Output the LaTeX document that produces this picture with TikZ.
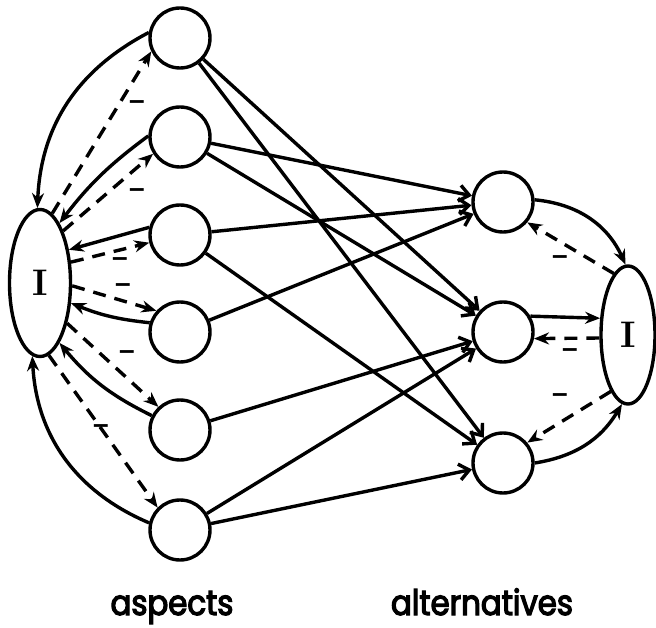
\documentclass[tikz,border=0pt]{standalone}
\usepackage{fontspec}
\newfontfamily\labelfont[FakeStretch=0.88,FakeBold=3.5]{Poppins}
\newfontfamily\signfont{Liberation Sans}
\usetikzlibrary{arrows.meta,shapes.geometric}

\begin{document}
\begin{tikzpicture}[x=1pt,y=-1pt,line width=3.4pt,
  unit/.style={circle,draw,minimum size=60pt,inner sep=0pt},
  hub/.style={ellipse,draw,inner sep=0pt,font=\bfseries\fontsize{37}{37}\selectfont},
  link/.style={-{Straight Barb[length=10pt,width=16pt]}},
  feed/.style={-{Stealth[length=15pt,width=12pt]}},
  back/.style={dash pattern=on 13pt off 9pt,-{Stealth[length=15pt,width=12pt]}},
  sign/.style={font=\signfont\bfseries\fontsize{28}{28}\selectfont,inner sep=0pt},
  caption/.style={font=\labelfont\fontsize{35}{35}\selectfont,inner sep=0pt,anchor=base}]
\useasboundingbox (0,0) rectangle (656,628);

% integrator units
\node[hub,minimum width=61pt,minimum height=147pt] (L) at (40,283) {I};
\node[hub,minimum width=54pt,minimum height=138pt] (R) at (628,335) {I};

% aspect units
\node[unit] (a1) at (180,38) {};
\node[unit] (a2) at (180,137) {};
\node[unit] (a3) at (180,235) {};
\node[unit] (a4) at (180,332) {};
\node[unit] (a5) at (180,430) {};
\node[unit] (a6) at (180,530) {};

% alternative units
\node[unit] (b1) at (503,202) {};
\node[unit] (b2) at (503,332) {};
\node[unit] (b3) at (503,463) {};

% aspects feeding the left integrator
\draw[feed] (a1.170) to[bend right=30] (L.92);
\draw[feed] (a2.178) to[bend right=8] (L.72);
\draw[feed] (a3.166) -- (L.49);
\draw[feed] (a4.163) to[bend left=8] (L.327);
\draw[feed] (a5.153) to[bend left=12] (L.288);
\draw[feed] (a6.167) to[bend left=32] (L.264);

% inhibitory feedback to the aspects
\draw[back] (L.80) -- (a1.205);
\draw[back] (L.66) -- (a2.212);
\draw[back] (L.34) -- (a3.194);
\draw[back] (L.355) -- (a4.138);
\draw[back] (L.304) -- (a5.133);
\draw[back] (L.277) -- (a6.135);

\node[sign] (s1) at (137,105) {–};
\node[sign] (s2) at (137,193) {–};
\node[sign] (s3) at (120,262) {–};
\node[sign] (s4) at (123,288) {–};
\node[sign] (s5) at (127,355) {–};
\node[sign] (s6) at (101,429) {–};

% aspects to alternatives
\draw[link] (a1) -- (b2);
\draw[link] (a1) -- (b3);
\draw[link] (a2) -- (b1);
\draw[link] (a2) -- (b2);
\draw[link] (a3) -- (b1);
\draw[link] (a3) -- (b3);
\draw[link] (a4) -- (b1);
\draw[link] (a5) -- (b2);
\draw[link] (a6) -- (b2);
\draw[link] (a6) -- (b3);

% alternatives feeding the right integrator
\draw[feed] (b1.4) to[bend left=30] (R.92);
\draw[feed] (b2.30) -- (R.149);
\draw[feed] (b3.0) to[bend right=25] (R.265);

% inhibitory feedback to the alternatives
\draw[back] (R.103) -- (b1.320);
\draw[back] (R.186) -- (b2.348);
\draw[back] (R.253) -- (b3.40);

\node[sign] (t1) at (560,260) {–};
\node[sign] (t2) at (570,353) {–};
\node[sign] (t3) at (560,398) {–};

% captions
\node[caption] (capA) at (172,615) {aspects};
\node[caption] (capB) at (482,615) {alternatives};
\end{tikzpicture}
\end{document}
